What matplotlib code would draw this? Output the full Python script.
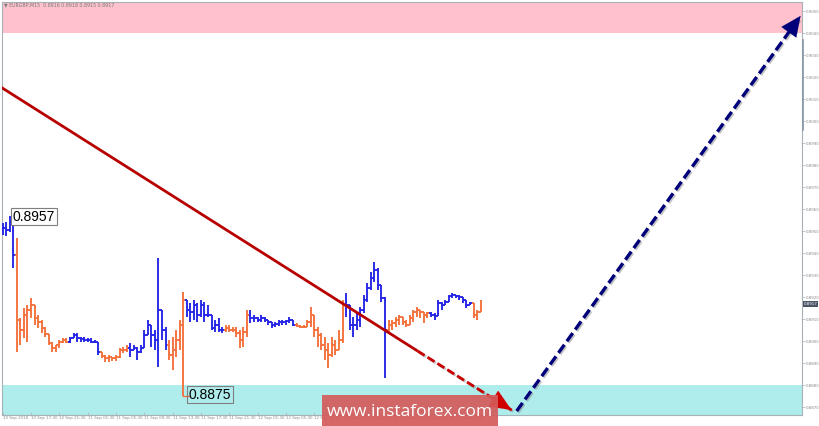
import numpy as np
import matplotlib
matplotlib.use("Agg")
import matplotlib.pyplot as plt
from matplotlib.collections import LineCollection
from matplotlib.lines import Line2D
import matplotlib.patheffects as pe

# ---------------- data (EURGBP M30-ish bars) ----------------
bar_high = [0.89536, 0.89541, 0.8957, 0.89559, 0.89468, 0.89105, 0.89150, 0.89164, 0.89195, 0.89150,
            0.89118, 0.89095, 0.89064, 0.89027, 0.88995, 0.88982, 0.89005, 0.89014, 0.89014, 0.89018,
            0.89036, 0.89036, 0.89018, 0.89018, 0.89014, 0.89014, 0.89005, 0.88995, 0.88950, 0.88936,
            0.88936, 0.88927, 0.88936, 0.88968, 0.88973, 0.88982, 0.88991, 0.88982, 0.88973, 0.88982,
            0.89050, 0.89095, 0.89059, 0.89050, 0.89377, 0.89127, 0.89064, 0.89005, 0.89018, 0.89050,
            0.89095, 0.89223, 0.89186, 0.89173, 0.89186, 0.89173, 0.89186, 0.89177, 0.89164, 0.89109,
            0.89095, 0.89105, 0.89064, 0.89073, 0.89073, 0.89064, 0.89064, 0.89050, 0.89064, 0.89141,
            0.89141, 0.89118, 0.89109, 0.89118, 0.89109, 0.89095, 0.89086, 0.89086, 0.89095, 0.89095,
            0.89095, 0.89109, 0.89095, 0.89082, 0.89073, 0.89073, 0.89095, 0.89155, 0.89095, 0.89064,
            0.89036, 0.89018, 0.88991, 0.89018, 0.89005, 0.89050, 0.89186, 0.89218, 0.89155, 0.89109,
            0.89127, 0.89155, 0.89209, 0.89264, 0.89314, 0.89359, 0.89332, 0.89255, 0.89200, 0.89095,
            0.89095, 0.89109, 0.89118, 0.89109, 0.89095, 0.89118, 0.89141, 0.89155, 0.89141, 0.89132,
            0.89132, 0.89132, 0.89127, 0.89186, 0.89177, 0.89186, 0.89209, 0.89218, 0.89209, 0.89209,
            0.89200, 0.89177, 0.89177, 0.89164, 0.89141, 0.89186]
bar_low = [0.89482, 0.89477, 0.89495, 0.89332, 0.88950, 0.88982, 0.89014, 0.88995, 0.89105, 0.89073,
           0.89059, 0.89036, 0.89018, 0.88982, 0.88950, 0.88950, 0.88968, 0.88991, 0.88991, 0.88991,
           0.89014, 0.88995, 0.88995, 0.88995, 0.88995, 0.88991, 0.88991, 0.88936, 0.88923, 0.88905,
           0.88905, 0.88909, 0.88909, 0.88923, 0.88945, 0.88950, 0.88927, 0.88959, 0.88914, 0.88945,
           0.88973, 0.89036, 0.88973, 0.88959, 0.88882, 0.89005, 0.88959, 0.88914, 0.88868, 0.88927,
           0.88959, 0.88750, 0.89109, 0.89086, 0.89095, 0.89086, 0.89109, 0.89086, 0.89109, 0.89050,
           0.89041, 0.89041, 0.89036, 0.89041, 0.89041, 0.89041, 0.89018, 0.88968, 0.88973, 0.89018,
           0.89082, 0.89086, 0.89086, 0.89086, 0.89086, 0.89073, 0.89059, 0.89064, 0.89068, 0.89073,
           0.89073, 0.89082, 0.89068, 0.89064, 0.89059, 0.89059, 0.89064, 0.89064, 0.89018, 0.88973,
           0.88959, 0.88914, 0.88877, 0.88927, 0.88936, 0.88959, 0.88991, 0.89109, 0.89050, 0.89018,
           0.89050, 0.89064, 0.89127, 0.89177, 0.89232, 0.89268, 0.89232, 0.89177, 0.88832, 0.89041,
           0.89050, 0.89064, 0.89073, 0.89073, 0.89064, 0.89073, 0.89086, 0.89109, 0.89105, 0.89082,
           0.89105, 0.89109, 0.89095, 0.89141, 0.89141, 0.89164, 0.89186, 0.89195, 0.89195, 0.89186,
           0.89173, 0.89150, 0.89164, 0.89105, 0.89095, 0.89132]
bar_close = [0.89514, 0.89505, 0.89541, 0.89391, 0.89095, 0.89050, 0.89118, 0.89141, 0.89164, 0.89105,
             0.89086, 0.89059, 0.89032, 0.88991, 0.88968, 0.88982, 0.88995, 0.89005, 0.88995, 0.89014,
             0.89027, 0.89014, 0.89009, 0.89005, 0.89005, 0.88995, 0.88995, 0.88950, 0.88932, 0.88923,
             0.88927, 0.88923, 0.88927, 0.88959, 0.88959, 0.88968, 0.88959, 0.88968, 0.88950, 0.88968,
             0.89027, 0.89073, 0.89027, 0.89005, 0.89141, 0.89050, 0.88982, 0.88936, 0.88959, 0.89005,
             0.89073, 0.89186, 0.89141, 0.89132, 0.89164, 0.89118, 0.89164, 0.89118, 0.89118, 0.89059,
             0.89073, 0.89050, 0.89050, 0.89059, 0.89050, 0.89050, 0.89036, 0.89005, 0.89041, 0.89118,
             0.89105, 0.89105, 0.89095, 0.89105, 0.89095, 0.89086, 0.89073, 0.89077, 0.89086, 0.89086,
             0.89091, 0.89095, 0.89073, 0.89068, 0.89064, 0.89064, 0.89086, 0.89118, 0.89050, 0.89027,
             0.88982, 0.88959, 0.88936, 0.88982, 0.88959, 0.89005, 0.89164, 0.89164, 0.89073, 0.89073,
             0.89095, 0.89141, 0.89186, 0.89241, 0.89286, 0.89323, 0.89255, 0.89195, 0.89050, 0.89073,
             0.89082, 0.89095, 0.89109, 0.89086, 0.89073, 0.89105, 0.89132, 0.89141, 0.89132, 0.89118,
             0.89127, 0.89118, 0.89114, 0.89173, 0.89164, 0.89177, 0.89205, 0.89209, 0.89205, 0.89200,
             0.89186, 0.89164, 0.89173, 0.89118, 0.89132, 0.89168]

# wave segments: first bar index of each wave and its colour
wave_start = [0, 4, 19, 28, 36, 47, 52, 63, 70, 83, 97, 109, 121, 133]
wave_color = ["#2424E6", "#F4713B"] * 7

time_tick_bars = [0, 8, 16, 24, 32, 40, 48, 56, 64, 72, 80, 88, 96, 104, 112, 120, 128]
time_labels = ["10 Sep 2018", "10 Sep 17:30", "10 Sep 21:30", "11 Sep 01:30", "11 Sep 05:30",
               "11 Sep 09:30", "11 Sep 13:30", "11 Sep 17:30", "11 Sep 21:30", "12 Sep 01:30",
               "12 Sep 05:30", "12 Sep 09:30", "12 Sep 13:30", "12 Sep 17:30", "12 Sep 21:30",
               "13 Sep 01:30", "13 Sep 05:30"]
price_ticks = [0.8870, 0.8880, 0.8890, 0.8900, 0.8910, 0.8920, 0.8930, 0.8940, 0.8950, 0.8960,
               0.8970, 0.8980, 0.8990, 0.9000, 0.9010, 0.9020, 0.9030, 0.9040, 0.9050]

resistance_zone = [0.9040, 0.90541]
support_zone = [0.88664, 0.8880]

down_wave_x = [-0.6, 117.2, 143.8]
down_wave_y = [0.90155, 0.88955, 0.88686]
up_wave_x = [145.2, 225.4]
up_wave_y = [0.88682, 0.90478]

high_label = ("0.8957", 2.9, 0.89566)
low_label = ("0.8875", 52.5, 0.88757)
last_price = 0.8917

# ---------------- figure ----------------
W, H = 820, 426
fig = plt.figure(figsize=(W / 100, H / 100), dpi=100)
ax = fig.add_axes([2 / W, 11 / H, 800 / W, 413 / H])
ax.set_xlim(-0.2, 225.8)
ax.set_ylim(0.88664, 0.90541)

ax.axhspan(*resistance_zone, color="#FFC2CC", lw=0, zorder=0)
ax.axhspan(*support_zone, color="#AFEDED", lw=0, zorder=0)

# bars
n = len(bar_close)
colors = []
for i in range(n):
    k = max(j for j, s in enumerate(wave_start) if s <= i)
    colors.append(wave_color[k])
segs, cols = [], []
for i in range(n):
    o = bar_close[i - 1] if i > 0 else bar_close[i]
    lo = min(bar_low[i], o, bar_close[i])
    hi = max(bar_high[i], o, bar_close[i])
    segs.append([(i, lo), (i, hi)])
    segs.append([(i - 0.5, o), (i, o)])
    segs.append([(i, bar_close[i]), (i + 0.5, bar_close[i])])
    cols += [colors[i]] * 3
ax.add_collection(LineCollection(segs, colors=cols, linewidths=1.35, zorder=3,
                                 capstyle="butt"))

# low spike connector
ax.plot([51, 52.5], [bar_low[51], bar_low[51]], color="#F4713B", lw=1.0, zorder=3)

# down wave (red)
shadow = [pe.SimpleLineShadow(offset=(1, -1), shadow_color="#888888", alpha=0.5), pe.Normal()]
ax.plot(down_wave_x[:2], down_wave_y[:2], color="#B80000", lw=2.0, zorder=4,
        solid_capstyle="butt")
ax.plot(down_wave_x[1:], down_wave_y[1:], color="#C80000", lw=2.0, zorder=4,
        dashes=(3, 1.2), path_effects=shadow)
fx = down_wave_x[2] - 0.35 * (down_wave_x[2] - down_wave_x[1])
fy = down_wave_y[2] - 0.35 * (down_wave_y[2] - down_wave_y[1])
ax.annotate("", xy=(down_wave_x[2], down_wave_y[2]), xytext=(fx, fy),
            arrowprops=dict(arrowstyle="-|>,head_length=1.3,head_width=0.55",
                            color="#D00000", lw=0.1, mutation_scale=12,
                            shrinkA=0, shrinkB=0), zorder=5)

# up wave (navy dashed)
ax.plot(up_wave_x, up_wave_y, color="#00007A", lw=2.4, zorder=4,
        dashes=(3, 1.3), path_effects=shadow)
ux = up_wave_x[1] - 0.15 * (up_wave_x[1] - up_wave_x[0])
uy = up_wave_y[1] - 0.15 * (up_wave_y[1] - up_wave_y[0])
ax.annotate("", xy=(up_wave_x[1], up_wave_y[1]), xytext=(ux, uy),
            arrowprops=dict(arrowstyle="-|>,head_length=1.2,head_width=0.55",
                            color="#00007A", lw=0.1, mutation_scale=12,
                            shrinkA=0, shrinkB=0), zorder=5)

# price labels
for txt, x, y, fc in [(high_label[0], high_label[1], high_label[2], "white"),
                      (low_label[0], low_label[1], low_label[2], "none")]:
    ax.text(x, y, txt, fontsize=10, family="Liberation Sans", color="black",
            ha="left", va="center", zorder=6,
            bbox=dict(boxstyle="square,pad=0.12", fc=fc, ec="#7f7f7f", lw=0.8))

# axes styling
for s in ["left", "bottom", "right", "top"]:
    ax.spines[s].set_color("#A8B0B8")
    ax.spines[s].set_linewidth(0.8)
ax.yaxis.tick_right()
ax.set_yticks(price_ticks)
ax.set_yticklabels([f"{v:.4f}" for v in price_ticks])
ax.tick_params(axis="y", labelsize=2.9, labelcolor="#8a8a8a", color="#A8B0B8",
               length=2, width=0.5, pad=0.8)
ax.set_xticks(time_tick_bars)
ax.set_xticklabels(time_labels)
ax.tick_params(axis="x", labelsize=2.9, labelcolor="#8a8a8a", color="#A8B0B8",
               length=2, width=0.5, pad=0.8, direction="in")
for lbl in ax.get_xticklabels():
    lbl.set_ha("left")

ax.text(1.002, last_price, f"{last_price:.4f}", transform=ax.get_yaxis_transform(),
        fontsize=2.9, color="white", ha="left", va="center", zorder=7, clip_on=False,
        bbox=dict(boxstyle="square,pad=0.25", fc="#4C5566", ec="none"))

fig.add_artist(Line2D([803.5 / W] * 2, [1 - 40 / H, 1 - 130 / H], color="#8896A6", lw=1.2))

fig.text(4 / W, 1 - 5 / H, "▼ EURGBP,M15  0.8916 0.8918 0.8915 0.8917", fontsize=3.4,
         color="#777777", ha="left", va="center")

# watermark
fig.patches.append(plt.Rectangle((322 / W, 0), 176 / W, 31 / H, transform=fig.transFigure,
                                 fc="#D45A5A", ec="none", alpha=0.92, zorder=10))
fig.text(410 / W, 14 / H, "www.instaforex.com", fontsize=12.5, family="Open Sans",
         color="white", ha="center", va="center", zorder=11)

fig.savefig("out.png", dpi=100)
